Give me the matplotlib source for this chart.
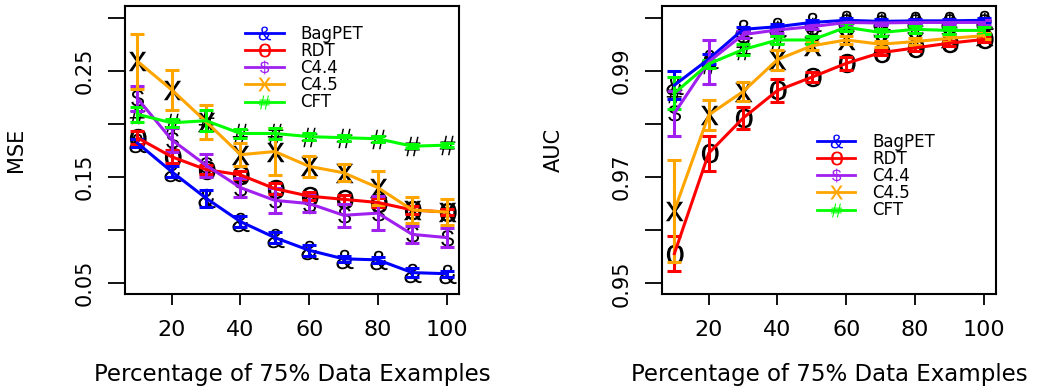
import numpy as np
import matplotlib
matplotlib.use('Agg')
import matplotlib.pyplot as plt
from matplotlib.lines import Line2D
from matplotlib.textpath import TextPath
from matplotlib.font_manager import FontProperties
from matplotlib.path import Path

plt.rcParams['font.family'] = ['DejaVu Sans']

# data
pct = [10, 20, 30, 40, 50, 60, 70, 80, 90, 100]
methods = ['BagPET', 'RDT', 'C4.4', 'C4.5', 'CFT']
colors = ['blue', 'red', '#A020F0', 'orange', '#00FF00']
symbols = ['&', 'o', '$', 'x', '#']

mse_bagpet = [0.182, 0.155, 0.130, 0.108, 0.093, 0.081, 0.073, 0.072, 0.060, 0.059]
mse_rdt = [0.187, 0.169, 0.157, 0.152, 0.139, 0.132, 0.129, 0.126, 0.119, 0.117]
mse_c44 = [0.224, 0.185, 0.161, 0.140, 0.128, 0.125, 0.114, 0.116, 0.096, 0.093]
mse_c45 = [0.259, 0.232, 0.202, 0.171, 0.174, 0.160, 0.154, 0.140, 0.119, 0.117]
mse_cft = [0.209, 0.201, 0.203, 0.191, 0.191, 0.188, 0.187, 0.186, 0.179, 0.180]

mse_err_bagpet = [0.004, 0.005, 0.008, 0.005, 0.005, 0.005, 0.003, 0.003, 0.004, 0.003]
mse_err_rdt = [0.006, 0.006, 0.004, 0.004, 0.005, 0.004, 0.004, 0.004, 0.004, 0.003]
mse_err_c44 = [0.012, 0.011, 0.011, 0.009, 0.012, 0.008, 0.011, 0.016, 0.008, 0.009]
mse_err_c45 = [0.026, 0.019, 0.016, 0.011, 0.022, 0.010, 0.008, 0.016, 0.012, 0.012]
mse_err_cft = [0.007, 0.004, 0.010, 0.004, 0.005, 0.003, 0.003, 0.003, 0.002, 0.002]

auc_bagpet = [0.9873, 0.9922, 0.9978, 0.9983, 0.9991, 0.9995, 0.9993, 0.9994, 0.9994, 0.9995]
auc_rdt = [0.9556, 0.9745, 0.9811, 0.9863, 0.9888, 0.9914, 0.9934, 0.9943, 0.9952, 0.9959]
auc_c44 = [0.9820, 0.9917, 0.9968, 0.9977, 0.9983, 0.9991, 0.9990, 0.9991, 0.9991, 0.9991]
auc_c45 = [0.9637, 0.9817, 0.9861, 0.9921, 0.9947, 0.9958, 0.9950, 0.9955, 0.9961, 0.9966]
auc_cft = [0.9858, 0.9913, 0.9940, 0.9958, 0.9958, 0.9982, 0.9972, 0.9978, 0.9976, 0.9976]

auc_err_bagpet = [0.0026, 0.0010, 0.0005, 0.0005, 0.0004, 0.0004, 0.0004, 0.0004, 0.0004, 0.0004]
auc_err_rdt = [0.0033, 0.0033, 0.0020, 0.0022, 0.0010, 0.0012, 0.0005, 0.0005, 0.0005, 0.0005]
auc_err_c44 = [0.0042, 0.0041, 0.0006, 0.0005, 0.0005, 0.0004, 0.0004, 0.0004, 0.0004, 0.0004]
auc_err_c45 = [0.0096, 0.0028, 0.0018, 0.0019, 0.0008, 0.0008, 0.0006, 0.0006, 0.0006, 0.0006]
auc_err_cft = [0.0030, 0.0008, 0.0010, 0.0008, 0.0008, 0.0008, 0.0006, 0.0006, 0.0006, 0.0006]

mse_series = [mse_bagpet, mse_rdt, mse_c44, mse_c45, mse_cft]
mse_errs = [mse_err_bagpet, mse_err_rdt, mse_err_c44, mse_err_c45, mse_err_cft]
auc_series = [auc_bagpet, auc_rdt, auc_c44, auc_c45, auc_cft]
auc_errs = [auc_err_bagpet, auc_err_rdt, auc_err_c44, auc_err_c45, auc_err_cft]

xlabel = 'Percentage of 75% Data Examples'
mse_ticks = [0.05, 0.10, 0.15, 0.20, 0.25, 0.30]
mse_ticklabels = ['0.05', '', '0.15', '', '0.25', '']
auc_ticks = [0.95, 0.96, 0.97, 0.98, 0.99, 1.00]
auc_ticklabels = ['0.95', '', '0.97', '', '0.99', '']


def char_marker(ch):
    # glyph outline as a marker, centered on its ink box
    tp = TextPath((0, 0), ch, size=10, prop=FontProperties(family='Liberation Sans'))
    v = tp.vertices
    c = (v.min(axis=0) + v.max(axis=0)) / 2
    return Path(v - c, tp.codes)


markers = [char_marker(s) for s in symbols]


def draw_panel(ax, series, errs, ylim, yticks, yticklabels, ylabel, leg_anchor):
    for vals, err, col, mk in zip(series, errs, colors, markers):
        ax.plot(pct, vals, ls='none', marker=mk, color='black',
                markersize=14, markeredgewidth=0, zorder=2)
        ax.errorbar(pct, vals, yerr=err, color=col, lw=2.2, elinewidth=2.2,
                    capsize=4.8, capthick=2.2, zorder=3)
    ax.set_xlim(6.4, 103.6)
    ax.set_ylim(*ylim)
    ax.set_xticks([20, 40, 60, 80, 100])
    ax.set_yticks(yticks)
    ax.set_yticklabels(yticklabels, rotation=90, va='center')
    ax.tick_params(axis='x', length=8, width=1.3, pad=11, labelsize=16)
    ax.tick_params(axis='y', length=12, width=1.3, pad=10, labelsize=15)
    for s in ax.spines.values():
        s.set_linewidth(1.5)
    ax.set_xlabel(xlabel, fontsize=16.5)
    ax.xaxis.set_label_coords(0.5, -0.24)
    ax.set_ylabel(ylabel, fontsize=15)
    ax.yaxis.set_label_coords(-0.295, 0.5)

    handles = [Line2D([0], [0], color=c, lw=2, marker=m, markersize=10,
                      markeredgewidth=0, markerfacecolor=c)
               for c, m in zip(colors, markers)]
    ax.legend(handles, methods, loc='upper left', bbox_to_anchor=leg_anchor,
              frameon=False, fontsize=12, handlelength=2.3, handletextpad=1.0,
              labelspacing=-0.05, borderpad=0, borderaxespad=0)


fig = plt.figure(figsize=(10.55, 3.9), dpi=100)
ax1 = fig.add_axes([0.1185, 0.2462, 0.3166, 0.7385])
ax2 = fig.add_axes([0.6275, 0.2462, 0.3166, 0.7385])

draw_panel(ax1, mse_series, mse_errs, (0.0399, 0.311), mse_ticks,
           mse_ticklabels, 'MSE', (0.36, 0.935))
draw_panel(ax2, auc_series, auc_errs, (0.948, 1.0022), auc_ticks,
           auc_ticklabels, 'AUC', (0.464, 0.56))

fig.savefig('out.png', dpi=100)
